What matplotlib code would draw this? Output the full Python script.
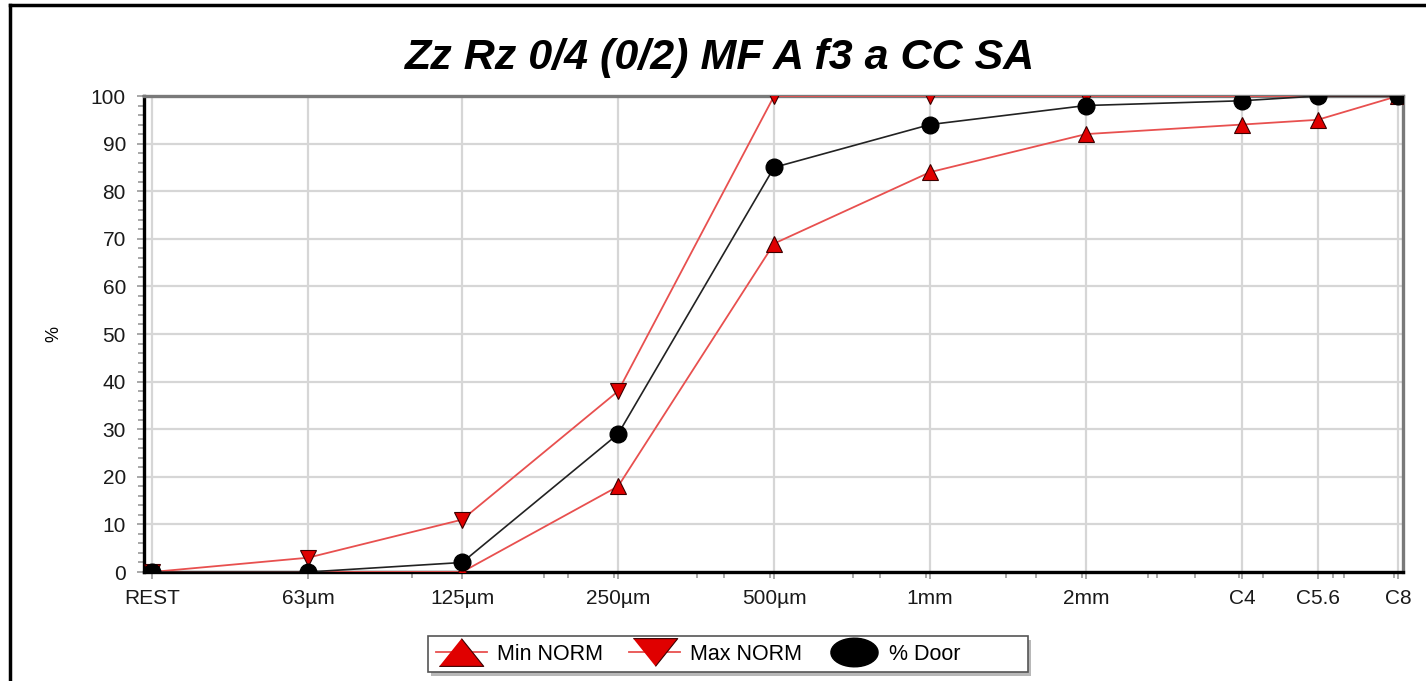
import matplotlib
matplotlib.use("Agg")
import matplotlib.pyplot as plt
from matplotlib.lines import Line2D
from matplotlib.patches import Rectangle
import numpy as np

# zeefmaten in mm (REST op halve 63um)
sizes = [0.0315, 0.063, 0.125, 0.25, 0.5, 1.0, 2.0, 4.0, 5.6, 8.0]
labels = ['REST', '63µm', '125µm', '250µm', '500µm', '1mm', '2mm', 'C4', 'C5.6', 'C8']
minor_sizes = [0.1, 0.18, 0.2, 0.245, 0.355, 0.4, 0.49, 0.71, 0.8, 0.98,
               1.4, 1.6, 1.96, 2.63, 2.74, 3.24, 3.95, 4.4, 6.0, 6.3, 7.85]

min_norm = [0, 0, 0, 18, 69, 84, 92, 94, 95, 100]
max_norm = [0, 3, 11, 38, 100, 100, 100, 100, 100, 100]
door = [0, 0, 2, 29, 85, 94, 98, 99, 100, 100]

W, H = 1426, 681
fig = plt.figure(figsize=(W / 100, H / 100), dpi=100)
plt.rcParams['font.family'] = ['Liberation Sans', 'DejaVu Sans']

ax = fig.add_axes([144 / W, 1 - 572 / H, (1403 - 144) / W, (572 - 96) / H])

red_line = '#e8504f'
red_fill = '#e00000'
edge = '#3a0000'

ax.plot(sizes, min_norm, color=red_line, lw=1.3, marker='^', ms=12,
        mfc=red_fill, mec=edge, mew=0.8, zorder=3)
ax.plot(sizes, max_norm, color=red_line, lw=1.3, marker='v', ms=12,
        mfc=red_fill, mec=edge, mew=0.8, zorder=3)
ax.plot(sizes, door, color='#222222', lw=1.2, marker='o', ms=12,
        mfc='black', mec='black', zorder=4)

ax.set_xscale('log', base=2)
ax.set_xlim(0.0304, 8.18)
ax.set_ylim(0, 100)

ax.set_xticks(sizes)
ax.set_xticklabels(labels)
ax.set_xticks(minor_sizes, minor=True)
ax.set_xticklabels([], minor=True)
ax.set_yticks(np.arange(0, 101, 10))
ax.set_yticks(np.arange(0, 101, 2), minor=True)

ax.tick_params(axis='both', which='major', length=5, width=1.2, color='#9a9a9a',
               labelsize=15, labelcolor='#1a1a1a')
ax.tick_params(axis='both', which='minor', length=4, width=1.2, color='#9a9a9a')
ax.tick_params(axis='x', which='major', pad=7)
ax.tick_params(axis='y', which='major', pad=8)

ax.grid(True, which='major', color='#d6d6d6', lw=1.6)
ax.set_axisbelow(True)

for s in ['left', 'bottom']:
    ax.spines[s].set_color('black')
    ax.spines[s].set_linewidth(2.4)
for s in ['top', 'right']:
    ax.spines[s].set_color('#7a7a7a')
    ax.spines[s].set_linewidth(2.4)

ax.set_ylabel('%', fontsize=13)
ax.yaxis.set_label_coords((62 - 144) / (1403 - 144), 0.5)

fig.text(719 / W, 1 - 58 / H, 'Zz Rz 0/4 (0/2) MF A f3 a CC SA', ha='center', va='center',
         fontsize=31, fontweight='bold', fontstyle='italic')

# brede legendasymbolen
tri_up = [(-1.6, -1), (1.6, -1), (0, 1)]
tri_dn = [(-1.6, 1), (1.6, 1), (0, -1)]
t = np.linspace(0, 2 * np.pi, 40)
ell = list(zip(1.65 * np.cos(t), np.sin(t)))
handles = [
    Line2D([], [], color=red_line, lw=1.3, marker=tri_up, ms=32, mfc=red_fill, mec=edge, mew=0.8),
    Line2D([], [], color=red_line, lw=1.3, marker=tri_dn, ms=32, mfc=red_fill, mec=edge, mew=0.8),
    Line2D([], [], color='black', lw=0, marker=ell, ms=34, mfc='black', mec='black'),
]
leg = fig.legend(handles, ['Min NORM', 'Max NORM', '% Door'], loc='center left',
                 bbox_to_anchor=(428 / W, 1 - 654 / H), ncol=3, fontsize=15.5,
                 frameon=False, handlelength=2.4, handletextpad=0.45,
                 columnspacing=1.2, borderpad=0.35, borderaxespad=0)
leg.set_zorder(6)

# legendakader met schaduw, breder dan de inhoud zoals in het origineel
fig.add_artist(Rectangle((431 / W, 1 - 676 / H), 600 / W, 36 / H, transform=fig.transFigure,
                         fc='#b8b8b8', ec='none', zorder=4))
fig.add_artist(Rectangle((428 / W, 1 - 672 / H), 600 / W, 36 / H, transform=fig.transFigure,
                         fc='white', ec='#555555', lw=1.2, zorder=5))

# rand om de figuur
fig.add_artist(Line2D([10 / W, 1.0], [1 - 5 / H, 1 - 5 / H], color='black', lw=2.5,
                      transform=fig.transFigure))
fig.add_artist(Line2D([10 / W, 10 / W], [0, 1 - 5 / H], color='black', lw=2.5,
                      transform=fig.transFigure))

fig.savefig('out.png', dpi=100)
